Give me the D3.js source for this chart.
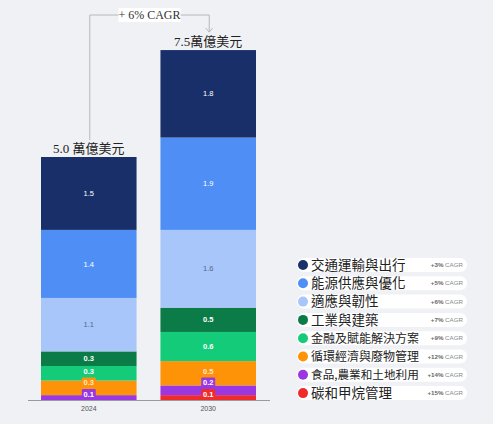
<!DOCTYPE html>
<html>
<head>
<meta charset="utf-8">
<script src="https://cdn.jsdelivr.net/npm/d3@7"></script>
<style>
  body { margin: 0; background: #eff1f4; }
  svg { display: block; }
</style>
</head>
<body>
<svg></svg>
<script>
var years = ["2024", "2030"];
var sectors = ["交通運輸與出行", "能源供應與優化", "適應與韌性", "工業與建築",
               "金融及賦能解決方案", "循環經濟與廢物管理", "食品,農業和土地利用", "碳和甲烷管理"];
var cagr = ["+3%", "+5%", "+6%", "+7%", "+9%", "+12%", "+14%", "+15%"];
var colors = ["#182f69", "#4f8ff5", "#a8c6fa", "#0b7b48", "#14cb7a", "#ff9308", "#9a37e2", "#ef2b2b"];
var v2024 = [1.5, 1.4, 1.1, 0.3, 0.3, 0.3, 0.1, 0];
var v2030 = [1.8, 1.9, 1.6, 0.5, 0.6, 0.5, 0.2, 0.1];
var totalLabels = ["5.0 萬億美元", "7.5萬億美元"];
var growthLabel = "+ 6% CAGR";

var w = 493, h = 424;
var svg = d3.select("svg").attr("width", w).attr("height", h);

svg.append("rect").attr("width", w).attr("height", h).attr("fill", "#eff1f4");

// one row per year, keys = sectors
var table = years.map(function(y, i) {
    var row = { year: y };
    var vals = i === 0 ? v2024 : v2030;
    sectors.forEach(function(s, j) { row[s] = vals[j]; });
    return row;
});

var color = d3.scaleOrdinal().domain(sectors).range(colors);

// bottom of the stack is the last sector
var stack = d3.stack().keys(sectors.slice().reverse());
var series = stack(table);

var x = d3.scaleBand().domain(years).range([41, 256]).paddingInner(0.2).paddingOuter(0);
var y = d3.scaleLinear().domain([0, 7.5]).range([400, 35.5]);

svg.append("g").selectAll("g")
    .data(series)
    .enter().append("g")
    .attr("fill", function(d) { return color(d.key); })
    .selectAll("rect")
    .data(function(d) { return d; })
    .enter().append("rect")
    .attr("x", function(d) { return x(d.data.year); })
    .attr("y", function(d) { return y(d[1]); })
    .attr("width", x.bandwidth())
    .attr("height", function(d) { return y(d[0]) - y(d[1]); });

// segment labels, pushed up from the bottom so they don't overlap
var fmt = d3.format(".1f");
var labels = [];
years.forEach(function(yr, i) {
    var prev = 394 + 11.5;
    series.forEach(function(s) {
        var d = s[i];
        var v = d[1] - d[0];
        if (v <= 0) return;
        var cy = Math.min((y(d[0]) + y(d[1])) / 2, prev - 11.5, 394);
        prev = cy;
        labels.push({ year: yr, key: s.key, v: v, cy: cy });
    });
});

var lab = svg.append("g").selectAll("g")
    .data(labels)
    .enter().append("g")
    .attr("transform", function(d) {
        return "translate(" + (x(d.year) + x.bandwidth() / 2) + "," + d.cy + ")";
    });

lab.append("rect")
    .attr("x", -7).attr("y", -5)
    .attr("width", 14).attr("height", 10)
    .attr("rx", 1)
    .attr("fill", function(d) { return color(d.key); });

lab.append("text")
    .text(function(d) { return fmt(d.v); })
    .attr("dy", "0.35em")
    .attr("text-anchor", "middle")
    .attr("font-family", "Liberation Sans, Arial, sans-serif")
    .attr("font-size", "7.5px")
    .attr("font-weight", function(d) { return d.v < 1 ? 700 : 400; })
    .attr("fill", function(d) { return d.key === sectors[2] ? "#56698a" : "white"; })
    .attr("fill-opacity", function(d) { return d.key === sectors[5] ? 0.8 : 1; });

// axis
svg.append("line")
    .attr("x1", 28).attr("x2", 270)
    .attr("y1", y(0) + 0.5).attr("y2", y(0) + 0.5)
    .attr("stroke", "#9a9a9a");

var axis = svg.append("g")
    .attr("transform", "translate(0," + y(0) + ")")
    .call(d3.axisBottom(x).tickSize(0).tickPadding(6));
axis.select(".domain").remove();
axis.selectAll("text")
    .attr("font-family", "Liberation Sans, Arial, sans-serif")
    .attr("font-size", "7px")
    .attr("fill", "#555");

// totals above bars
var totals = years.map(function(yr, i) {
    return { year: yr, top: d3.max(series, function(s) { return s[i][1]; }), label: totalLabels[i] };
});
svg.append("g").selectAll("text")
    .data(totals)
    .enter().append("text")
    .text(function(d) { return d.label; })
    .attr("x", function(d) { return x(d.year) + x.bandwidth() / 2; })
    .attr("y", function(d) { return y(d.top) - 4; })
    .attr("text-anchor", "middle")
    .attr("font-family", "Liberation Serif, Noto Sans CJK TC, serif")
    .attr("font-size", "13px")
    .attr("fill", "#222");

// growth bracket
var cx0 = x(years[0]) + x.bandwidth() / 2 + 1;
var cx1 = x(years[1]) + x.bandwidth() / 2 + 1;
var by = 15;
svg.append("path")
    .attr("d", "M" + cx0 + "," + (y(totals[0].top) - 17) + "V" + by + "H" + cx1 + "V" + (y(totals[1].top) - 18))
    .attr("fill", "none")
    .attr("stroke", "#b5b8bd")
    .attr("stroke-width", 1);
svg.append("path")
    .attr("d", "M" + (cx1 - 3.5) + "," + (y(totals[1].top) - 22) + "L" + cx1 + "," + (y(totals[1].top) - 18) + "L" + (cx1 + 3.5) + "," + (y(totals[1].top) - 22))
    .attr("fill", "none")
    .attr("stroke", "#b5b8bd");
svg.append("rect")
    .attr("x", (cx0 + cx1) / 2 - 31).attr("y", by - 7)
    .attr("width", 62).attr("height", 14)
    .attr("fill", "white");
svg.append("text")
    .text(growthLabel)
    .attr("x", (cx0 + cx1) / 2).attr("y", by)
    .attr("dy", "0.35em")
    .attr("text-anchor", "middle")
    .attr("font-family", "Liberation Serif, serif")
    .attr("font-size", "12px")
    .attr("fill", "#333");

// legend
var legend = svg.append("g").selectAll("g")
    .data(sectors)
    .enter().append("g")
    .attr("transform", function(d, i) { return "translate(0," + (265 + i * 18.3) + ")"; });

legend.append("rect")
    .attr("x", 297).attr("y", -7)
    .attr("width", 170).attr("height", 14)
    .attr("rx", 7)
    .attr("fill", "white");

legend.append("circle")
    .attr("cx", 303).attr("cy", 0).attr("r", 5)
    .attr("fill", function(d) { return color(d); });

// long names get a smaller font so they stop before the CAGR note
legend.append("text")
    .text(function(d) { return d; })
    .attr("x", 311).attr("dy", "0.36em")
    .attr("font-family", "Noto Sans CJK TC, sans-serif")
    .attr("font-size", "13.5px")
    .attr("fill", "#222")
    .each(function() {
        var len = this.getComputedTextLength();
        if (len > 108) {
            d3.select(this).attr("font-size", (13.5 * 108 / len).toFixed(2) + "px");
        }
    });

var ct = legend.append("text")
    .attr("x", 463).attr("dy", "0.35em")
    .attr("text-anchor", "end")
    .attr("font-family", "Liberation Sans, Arial, sans-serif")
    .attr("font-size", "6.2px")
    .attr("fill", "#888");
ct.append("tspan")
    .text(function(d, i) { return cagr[i]; })
    .attr("font-weight", 700)
    .attr("fill", "#666");
ct.append("tspan")
    .text(" CAGR");
</script>
</body>
</html>
